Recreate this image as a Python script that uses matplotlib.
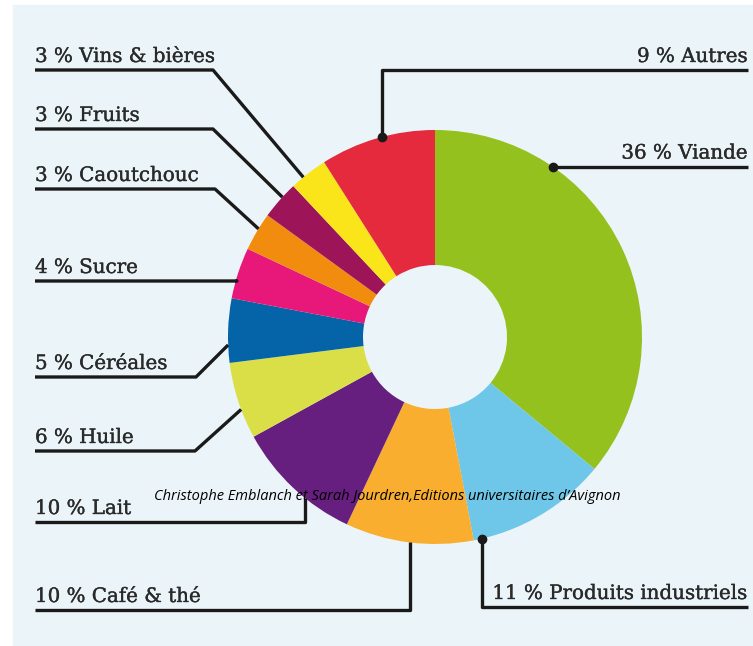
import numpy as np
import matplotlib.pyplot as plt
import matplotlib.patheffects as pe
from matplotlib.patches import Rectangle

# Data (clockwise from 12 o'clock)
categories = ["Viande", "Produits industriels", "Café & thé", "Lait", "Huile",
              "Céréales", "Sucre", "Caoutchouc", "Fruits", "Vins & bières", "Autres"]
shares = [36, 11, 10, 10, 6, 5, 4, 3, 3, 3, 9]
colors = ["#95C11F", "#6EC6E8", "#F9AE2F", "#661E7F", "#DADF48",
          "#0563A8", "#E8177A", "#F28C0F", "#9E1459", "#F9E51A", "#E42A3C"]
source = "Christophe Emblanch et Sarah Jourdren,Editions universitaires d\u2019Avignon"

W, H = 753, 646
fig = plt.figure(figsize=(W / 100, H / 100), dpi=100)
fig.patch.set_facecolor("white")
ax = fig.add_axes([0, 0, 1, 1])


def py(y):
    # pixel row (from top) -> data y
    return H - y


ax.add_patch(Rectangle((13, 0), W - 13, py(5), color="#EBF5F9", zorder=0))

cx, cy, R, r_in = 435, py(337), 207, 72
ax.pie(shares, colors=colors, startangle=90, counterclock=False,
       center=(cx, cy), radius=R, frame=True,
       wedgeprops=dict(width=R - r_in, linewidth=0))
ax.set_xlim(0, W)
ax.set_ylim(0, H)
ax.set_aspect("equal")
ax.axis("off")

txtcol = "#2a2a2a"
font = dict(family="DejaVu Serif", fontsize=14.3, color=txtcol, va="baseline",
            path_effects=[pe.withStroke(linewidth=0.25, foreground=txtcol)])
lc = "#1a1a1a"
lw = 2.4
gap = 8  # baseline above underline


def edge(angle):
    a = np.radians(angle)
    return cx + R * np.cos(a), cy + R * np.sin(a)


def label(i):
    return f"{shares[i]} % {categories[i]}"


# left-side labels: (label index, underline row, underline end x, anchor angle)
left = [(9, 70, 213, 129.5), (8, 129, 213, 137.5), (7, 189, 215, 148.5),
        (6, 281, 237, 164.3), (5, 377, 196, 182.2), (4, 451, 195, 200.5)]
for i, yrow, xend, ang in left:
    ex, ey = edge(ang)
    ax.plot([35, xend, ex], [py(yrow), py(yrow), ey], color=lc, lw=lw,
            solid_capstyle="butt", zorder=3)
    ax.text(35, py(yrow - gap), label(i), ha="left", **font)

# vertical-leader labels at the bottom left
for i, yrow, xv in [(3, 522, 305), (2, 610, 410)]:
    ang = -np.degrees(np.arccos((xv - cx) / R))
    ex, ey = edge(ang)
    ax.plot([35, xv, xv], [py(yrow), py(yrow), ey], color=lc, lw=lw,
            solid_capstyle="butt", zorder=3)
    ax.text(35, py(yrow - gap), label(i), ha="left", **font)

# Produits industriels
ex, ey = edge(-77)
ax.plot([ex, ex, 748], [ey, py(607), py(607)], color=lc, lw=lw,
        solid_capstyle="butt", zorder=3)
ax.plot([ex], [ey], "o", color=lc, ms=6, zorder=4)
ax.text(748, py(607 - gap), label(1), ha="right", **font)

# Autres
ex, ey = edge(104.8)
ax.plot([ex, ex, 748], [ey, py(70), py(70)], color=lc, lw=lw,
        solid_capstyle="butt", zorder=3)
ax.plot([ex], [ey], "o", color=lc, ms=6, zorder=4)
ax.text(748, py(70 - gap), label(10), ha="right", **font)

# Viande
ex, ey = edge(55.4)
ax.plot([ex, 748], [ey, ey], color=lc, lw=lw, solid_capstyle="butt", zorder=3)
ax.plot([ex], [ey], "o", color=lc, ms=6, zorder=4)
ax.text(748, ey + gap, label(0), ha="right", **font)

ax.text(387, py(497), source, ha="center", va="center", fontsize=10.5,
        style="italic", family="Open Sans", color="black", zorder=5)

fig.savefig("out.png", dpi=100, facecolor=fig.get_facecolor())
